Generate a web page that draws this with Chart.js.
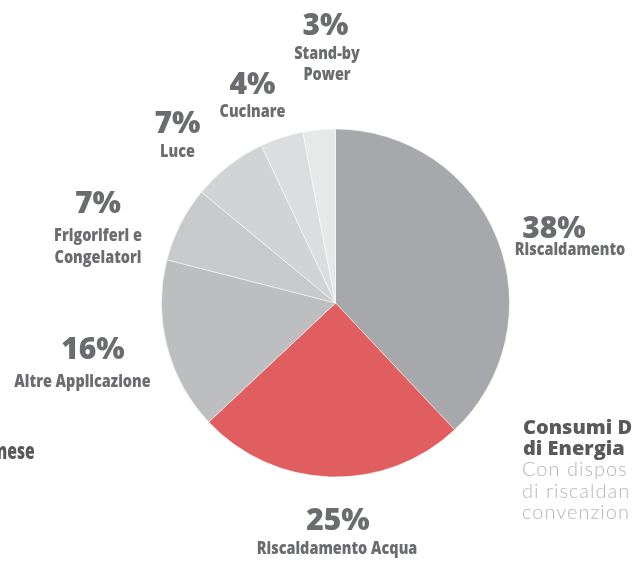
<!DOCTYPE html>
<html>
<head>
<meta charset="utf-8">
<script src="https://cdn.jsdelivr.net/npm/chart.js@4.4.1/dist/chart.umd.min.js"></script>
<style>
  html, body { margin: 0; padding: 0; background: #fff; overflow: hidden; }
  #wrap { position: relative; width: 632px; height: 564px; overflow: hidden; }
  #myChart { position: absolute; left: 0; top: 0; }
  .txt { position: absolute; white-space: nowrap; }
  .head { font-family: "Open Sans", sans-serif; font-weight: 800; font-size: 20px; line-height: 21px; color: #58595b; }
  .body { font-family: Lato, "Open Sans", sans-serif; font-weight: 300; font-size: 20px; line-height: 21px; color: #b5b6b8; letter-spacing: 1px; }
</style>
</head>
<body>
<div id="wrap">
  <canvas id="myChart" width="632" height="564"></canvas>
  <div class="txt head" style="right:597px; top:439px; font-size:23px; line-height:23px; transform-origin:100% 0; transform:scaleX(0.68);">nese</div>
  <div class="txt head" style="left:523px; top:416px;">Consumi D</div>
  <div class="txt head" style="left:523px; top:437px;">di Energia</div>
  <div class="txt body" style="left:522px; top:458px;">Con dispos</div>
  <div class="txt body" style="left:522px; top:480px;">di riscaldan</div>
  <div class="txt body" style="left:522px; top:501px;">convenzion</div>
</div>
<script>
// Data, clockwise from the top.
var categories = ['Riscaldamento', 'Riscaldamento Acqua', 'Altre Applicazione',
  ['Frigoriferi e', 'Congelatori'], 'Luce', 'Cucinare', ['Stand-by', 'Power']];
var shares = [38, 25, 16, 7, 7, 4, 3];
var sliceColors = ['#a7a8ab', '#e05e60', '#bdbec0', '#c8c9ca', '#d2d3d4', '#dcdddf', '#e7e8e8'];

// Where each label sits, relative to the pie centre:
// [x of percentage, baseline of percentage, x shift of the name, gap to name, name line height]
var labelLayout = [
  [218.5, -65, 16, 17, 21],
  [2.5, 227, -1, 24, 21],
  [-242.5, 56, -10.5, 28, 21],
  [-237.5, -90, 0, 28, 22],
  [-158, -170, 0, 24, 21],
  [-83, -209, 0, 23, 21],
  [-10, -268, 1.5, 24, 21]
];

// Draws the "38%" + name labels around the pie.
var outsideLabels = {
  id: 'outsideLabels',
  afterDatasetsDraw: function (chart) {
    var ctx = chart.ctx;
    var meta = chart.getDatasetMeta(0);
    ctx.save();
    ctx.fillStyle = '#6b6c6f';
    ctx.textAlign = 'center';
    ctx.textBaseline = 'alphabetic';
    meta.data.forEach(function (arc, i) {
      var l = labelLayout[i];
      var x = arc.x + l[0];
      var y = arc.y + l[1];
      ctx.font = '800 30px "Open Sans"';
      ctx.fillText(shares[i] + '%', x, y);
      ctx.font = '800 17px "Open Sans"';
      var lines = [].concat(categories[i]);
      lines.forEach(function (line, j) {
        ctx.save();
        ctx.translate(x + l[2], y + l[3] + j * l[4]);
        ctx.scale(0.85, 1);
        ctx.fillText(line, 0, 0);
        ctx.restore();
      });
    });
    ctx.restore();
  }
};

var ctx = document.getElementById('myChart');
var myChart = new Chart(ctx, {
  type: 'pie',
  data: {
    labels: categories,
    datasets: [{
      data: shares,
      backgroundColor: sliceColors,
      borderColor: 'rgba(255,255,255,0.5)',
      borderWidth: 1
    }]
  },
  options: {
    responsive: false,
    animation: false,
    layout: { padding: { top: 128.5, bottom: 86.5, left: 161, right: 122 } },
    plugins: {
      legend: { display: false },
      tooltip: { enabled: false }
    }
  },
  plugins: [outsideLabels]
});
</script>
</body>
</html>
